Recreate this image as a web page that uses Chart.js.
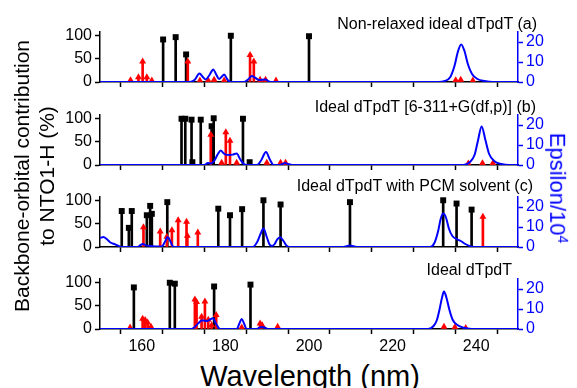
<!DOCTYPE html>
<html>
<head>
<meta charset="utf-8">
<script src="https://cdn.jsdelivr.net/npm/chart.js@4.4.0/dist/chart.umd.min.js"></script>
<style>
  body { margin: 0; background: #fff; }
  #wrap { position: relative; width: 577px; height: 388px; overflow: hidden; font-family: "Liberation Sans", Arial, sans-serif; }
  canvas { position: absolute; left: 0; }
  .title { position: absolute; font-size: 16px; line-height: 19px; white-space: nowrap; color: #000; }
  .ytitle { position: absolute; left: 34px; top: 176px; width: 320px; text-align: center; font-size: 21px; line-height: 25px; transform: translate(-50%, -50%) rotate(-90deg); }
  .y2title { position: absolute; left: 560px; top: 188px; white-space: nowrap; font-size: 22px; line-height: 24px; color: #0000ff; transform: translate(-50%, -50%) rotate(90deg); }
  .y2title sup { font-size: 14px; }
  .xtitle { position: absolute; left: 310px; top: 362px; transform: translateX(-50%); font-size: 29px; line-height: 29px; white-space: nowrap; }
</style>
</head>
<body>
<div id="wrap">
  <canvas id="panel-0" width="577" height="68" style="top:22px"></canvas>
  <canvas id="panel-1" width="577" height="68" style="top:105px"></canvas>
  <canvas id="panel-2" width="577" height="68" style="top:187px"></canvas>
  <canvas id="panel-3" width="577" height="90" style="top:269px"></canvas>
  <div class="title" style="right:40px;top:14px">Non-relaxed ideal dTpdT (a)</div>
  <div class="title" style="right:41px;top:97px">Ideal dTpdT [6-311+G(df,p)] (b)</div>
  <div class="title" style="right:44px;top:176px">Ideal dTpdT with PCM solvent (c)</div>
  <div class="title" style="right:65px;top:260px">Ideal dTpdT</div>
  <div class="ytitle">Backbone-orbital contribution<br>to NTO1-H (%)</div>
  <div class="y2title">Epsilon/10<sup>4</sup></div>
  <div class="xtitle">Wavelength (nm)</div>
</div>
<script>
// wavelength (nm), backbone contribution (%)
const blackA = [[165.1, 91], [168.1, 96], [170.6, 59], [181.3, 99], [200.0, 98]];
const redA = [[157.3, 4], [159.2, 10], [160.2, 44], [161.2, 10], [162.4, 3], [171.0, 44], [173.9, 3], [175.9, 3],
  [177.3, 5], [179.7, 3], [185.9, 58], [186.8, 44], [188.3, 5], [189.6, 5], [192.1, 3], [235.1, 4], [236.3, 5], [239.2, 3]];
// wavelength (nm), epsilon / 10^4
const epsA = [[150, 0], [171.5, 0], [172.6, 1], [173.8, 4.3], [174.6, 2.5], [175.3, 1.3], [176.2, 3.5], [177.1, 6.3],
  [177.8, 3.8], [178.5, 1.5], [179.1, 2.6], [179.7, 3.8], [180.4, 1.5], [181.2, 0], [184.5, 0], [185.4, 1.2], [186.3, 3],
  [187.2, 2], [188.1, 1], [189.5, 1.3], [190.8, 0], [231, 0], [232.5, 0.5], [233.8, 2.5], [234.8, 8], [235.6, 15],
  [236.4, 18.8], [237.2, 15.5], [238, 9], [239, 4], [240.3, 1.5], [242, 0.5], [244, 0], [250, 0]];

const blackB = [[169.5, 99], [170.4, 99], [171.9, 97], [172.1, 6], [174.1, 97], [176.7, 83], [177.2, 100], [184.2, 99], [185.8, 6]];
const redB = [[176.5, 65], [179.1, 5], [180.1, 70], [181.1, 52], [182.7, 5], [189.9, 5], [193.2, 5], [194.4, 5],
  [238.1, 3], [241.5, 4], [244.0, 4]];
const epsB = [[150, 0], [175, 0], [175.8, 1], [176.5, 0.8], [177.3, 2], [178.2, 5.5], [178.9, 7.3], [179.5, 6],
  [180.1, 5.2], [181.1, 5], [181.9, 5.3], [182.7, 5.7], [183.5, 3], [184.5, 0.3], [185, 0], [187.6, 0], [188.6, 2.5],
  [189.7, 6.5], [190.7, 2.5], [191.5, 0], [193, 0], [193.8, 0.6], [194.3, 1], [195, 0.5], [196, 0], [237, 0],
  [238.5, 1.5], [239.6, 5], [240.4, 12], [241.3, 19.3], [242.2, 12.5], [243.1, 5.5], [244.3, 2], [246, 0.5], [248, 0], [250, 0]];

const blackC = [[155.2, 77], [156.9, 41], [157.6, 77], [161.2, 68], [162.0, 88], [162.4, 71], [166.1, 96], [178.3, 82],
  [181.1, 68], [184.0, 81], [189.1, 100], [193.2, 91], [209.8, 96], [232.1, 100], [235.3, 93], [238.9, 80]];
const redC = [[160.4, 42], [164.4, 33], [166.0, 22], [167.2, 36], [168.7, 57], [170.7, 54], [170.9, 24], [173.4, 31], [241.6, 65]];
const epsC = [[150, 4.5], [150.8, 5], [151.6, 4], [152.4, 2.4], [153.6, 1.3], [154.8, 0.2], [156, 0], [159, 0], [159.6, 0.8],
  [160.2, 1.5], [161, 0.8], [162.4, 0.5], [163.5, 0.3], [164.8, 0.3], [165.5, 2.5], [166.2, 5], [166.9, 2.5], [167.6, 0],
  [186.5, 0], [187.6, 2.5], [188.4, 6.5], [189.1, 9.2], [189.9, 5], [190.5, 1.5], [191.1, 0.5], [191.8, 1.5], [192.4, 3.8],
  [193.1, 4.9], [193.9, 3], [194.6, 0.8], [195.3, 0], [208.2, 0], [209.8, 0.8], [211.4, 0], [229, 0], [230, 2], [230.9, 8],
  [231.5, 14], [232.1, 16.7], [232.8, 14.5], [233.5, 9], [234.3, 5.5], [235.3, 4], [236.3, 3], [237.4, 1.5], [238.5, 0.4],
  [239.5, 0], [250, 0]];

const blackD = [[158.1, 89], [166.7, 99], [167.9, 97], [177.3, 91], [186.0, 95]];
const redD = [[157.2, 3], [160.2, 22], [160.8, 19], [161.4, 14], [162.2, 5], [172.7, 63], [173.1, 58], [174.3, 26],
  [175.1, 59], [175.9, 20], [176.7, 8], [177.8, 30], [183.9, 3], [188.3, 12], [188.8, 8], [192.5, 5], [232.3, 5],
  [234.9, 4], [237.5, 2]];
const epsD = [[150, 0], [171.9, 0], [172.7, 1], [173.5, 2.8], [174.3, 4.3], [174.9, 4.2], [175.5, 4], [176.2, 4.6],
  [177.0, 5.4], [177.8, 2.5], [178.7, 0], [182.7, 0], [183.3, 2.5], [183.9, 5], [184.5, 2.5], [185.1, 0], [187.5, 0],
  [188.1, 0.7], [188.7, 1], [189.5, 0.6], [190.3, 0], [228.5, 0], [229.8, 1.5], [230.6, 4.5], [231.2, 9.5], [231.8, 15.5],
  [232.3, 18.7], [232.9, 15.5], [233.6, 9.5], [234.4, 4.5], [235.5, 2], [237, 0.6], [238.9, 0], [250, 0]];

const xTicks = [150, 160, 170, 180, 190, 200, 210, 220, 230, 240, 250];
const xLabels = [160, 180, 200, 220, 240];
const pctTicks = [0, 25, 50, 75, 100];
const pctLabels = [0, 50, 100];
const epsTicks = [0, 5, 10, 15, 20, 25];
const epsLabels = [0, 10, 20];

const panels = [
  {black: blackA, red: redA, eps: epsA},
  {black: blackB, red: redB, eps: epsB},
  {black: blackC, red: redC, eps: epsC},
  {black: blackD, red: redD, eps: epsD}
];

const BLUE = '#0000ff';
const RED = '#ff0000';
const FONT = {family: '"Liberation Sans", Arial, sans-serif', size: 16};

const toPoints = pairs => pairs.map(([x, y]) => ({x, y}));
const useTicks = list => scale => { scale.ticks = list.map(value => ({value})); };

function axisStyle(color) {
  return {
    grid: {drawOnChartArea: false, drawTicks: true, tickLength: 5, tickColor: color, tickWidth: 1.5},
    border: {display: true, color, width: 1.5}
  };
}

function createPanel(index, panel, isLast) {
  const context = document.getElementById(`panel-${index}`).getContext('2d');
  return new Chart(context, {
    type: 'bar',
    data: {
      datasets: [
        {type: 'line', data: toPoints(panel.eps), yAxisID: 'y2', borderColor: BLUE, borderWidth: 2,
          pointRadius: 0, cubicInterpolationMode: 'monotone', fill: false},
        {type: 'scatter', data: toPoints(panel.red), yAxisID: 'y', pointStyle: 'triangle', pointRadius: 4,
          backgroundColor: RED, borderWidth: 0},
        {type: 'bar', data: toPoints(panel.red), yAxisID: 'y', backgroundColor: RED, barThickness: 2, grouped: false},
        {type: 'scatter', data: toPoints(panel.black), yAxisID: 'y', pointStyle: 'rect', pointRadius: 4.2,
          backgroundColor: '#000', borderWidth: 0},
        {type: 'bar', data: toPoints(panel.black), yAxisID: 'y', backgroundColor: '#000', barThickness: 2, grouped: false}
      ]
    },
    options: {
      responsive: false,
      animation: false,
      devicePixelRatio: 1,
      layout: {padding: {top: 10, left: 0, right: 0, bottom: 0}},
      plugins: {legend: {display: false}, tooltip: {enabled: false}},
      scales: {
        x: {
          type: 'linear', min: 150, max: 250, offset: false,
          afterBuildTicks: useTicks(xTicks),
          afterFit: s => { s.height = isLast ? 30 : 8; s.paddingLeft = 0; s.paddingRight = 0; },
          ticks: {callback: v => (isLast && xLabels.includes(v) ? String(v) : ''), font: FONT, color: '#000',
            padding: 3, maxRotation: 0, autoSkip: false},
          ...axisStyle('#000')
        },
        y: {
          position: 'left', min: 0, max: 107,
          afterBuildTicks: useTicks(pctTicks),
          afterFit: s => { s.width = 100; s.paddingTop = 0; s.paddingBottom = 0; },
          ticks: {callback: v => (pctLabels.includes(v) ? String(v) : ''), font: FONT, color: '#000', padding: 3},
          ...axisStyle('#000')
        },
        y2: {
          position: 'right', min: 0, max: 25,
          afterBuildTicks: useTicks(epsTicks),
          afterFit: s => { s.width = 59; s.paddingTop = 0; s.paddingBottom = 0; },
          ticks: {callback: v => (epsLabels.includes(v) ? String(v) : ''), font: FONT, color: BLUE, padding: 3},
          ...axisStyle(BLUE)
        }
      }
    }
  });
}

panels.forEach((panel, index) => createPanel(index, panel, index === panels.length - 1));
</script>
</body>
</html>
